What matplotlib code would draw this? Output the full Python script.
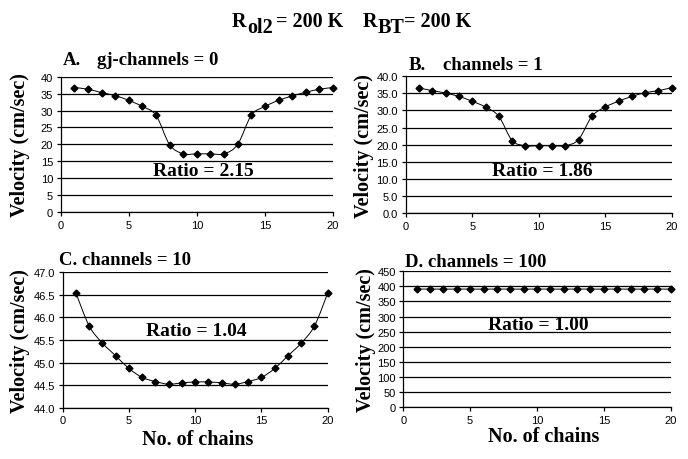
import numpy as np
import matplotlib.pyplot as plt
from matplotlib.path import Path
from matplotlib.patches import PathPatch
from matplotlib.ticker import FormatStrFormatter

W, H = 688, 460
SERIF = 'Liberation Serif'
SANS = 'Liberation Sans'

# data
chains = list(range(1, 21))
vel_a = [36.8, 36.3, 35.3, 34.4, 33.0, 31.2, 28.6, 19.9, 17.2, 17.2,
         17.2, 17.2, 20.0, 28.6, 31.2, 33.0, 34.3, 35.4, 36.3, 36.8]
vel_b = [36.6, 35.8, 35.1, 34.1, 32.7, 31.0, 28.3, 21.2, 19.7, 19.7,
         19.7, 19.7, 21.5, 28.3, 31.0, 32.7, 34.1, 35.2, 35.8, 36.7]
vel_c = [46.54, 45.81, 45.43, 45.15, 44.87, 44.67, 44.58, 44.52, 44.55, 44.57,
         44.57, 44.55, 44.52, 44.58, 44.67, 44.87, 45.15, 45.43, 45.81, 46.54]
vel_d = [391] * 20

titles = [('A.', 'gj-channels = 0'), ('B.', 'channels = 1'),
          ('C.', 'channels = 10'), ('D.', 'channels = 100')]
ratios = ['Ratio = 2.15', 'Ratio = 1.86', 'Ratio = 1.04', 'Ratio = 1.00']


def px(x, y):
    # pixel (from top-left) to figure fraction
    return x / W, 1 - y / H


def smooth_path(x, y):
    # Excel-style smoothed line as cubic Bezier segments
    pts = np.column_stack([x, y]).astype(float)
    n = len(pts)
    verts = [pts[0]]
    codes = [Path.MOVETO]
    for i in range(n - 1):
        p0 = pts[max(i - 1, 0)]
        p1 = pts[i]
        p2 = pts[i + 1]
        p3 = pts[min(i + 2, n - 1)]
        verts += [p1 + (p2 - p0) / 6, p2 - (p3 - p1) / 6, p2]
        codes += [Path.CURVE4] * 3
    return Path(verts, codes)


fig = plt.figure(figsize=(W / 100, H / 100), dpi=100)

# axes boxes in pixels: left, top, right, bottom
boxes = [(60.7, 77.7, 333, 213), (405.7, 77.3, 671.7, 214),
         (62.7, 273.3, 327.7, 408.7), (403.3, 272.3, 670.7, 408)]
limits = [(0, 40, 5, '%d'), (0, 40, 5, '%.1f'), (44, 47, 0.5, '%.1f'), (0, 450, 50, '%d')]
series = [vel_a, vel_b, vel_c, vel_d]
ratio_pos = [(10.45, 12.2), (10.3, 12.4), (10.1, 45.71), (10.1, 274.6)]
title_pos = [(63, 65, 97), (409, 70, 443), (59, 265, None), (405, 266.7, None)]
ylab_x = [20, 364, 20, 366]

for k in range(4):
    l, t, r, b = boxes[k]
    ax = fig.add_axes([l / W, 1 - b / H, (r - l) / W, (b - t) / H])
    lo, hi, step, fmt = limits[k]
    ax.set_xlim(0, 20)
    ax.set_ylim(lo, hi)
    ax.set_xticks(range(0, 21, 5))
    ax.set_yticks(np.arange(lo, hi + step / 2, step))
    ax.yaxis.set_major_formatter(FormatStrFormatter(fmt))
    ax.grid(axis='y', color='black', lw=0.9)
    ax.set_axisbelow(True)
    for s in ['top', 'right']:
        ax.spines[s].set_visible(False)
    for s in ['left', 'bottom']:
        ax.spines[s].set_linewidth(0.9)
    ax.tick_params(direction='out', length=3, width=0.9, labelsize=8, pad=2.5)
    for lab in ax.get_xticklabels() + ax.get_yticklabels():
        lab.set_family(SANS)

    ax.add_patch(PathPatch(smooth_path(chains, series[k]), fc='none', ec='black', lw=0.7))
    ax.plot(chains, series[k], ls='none', marker='D', ms=3.5, color='black', clip_on=False)

    ax.text(*ratio_pos[k], ratios[k], ha='center', va='center',
            family=SERIF, weight='bold', fontsize=14)

    # panel titles
    tx, ty, tx2 = title_pos[k]
    letter, rest = titles[k]
    if tx2 is None:
        fig.text(*px(tx, ty), letter + ' ' + rest, family=SERIF, weight='bold',
                 fontsize=13.5, va='baseline')
    else:
        fig.text(*px(tx, ty), letter, family=SERIF, weight='bold', fontsize=13.5, va='baseline')
        fig.text(*px(tx2, ty), rest, family=SERIF, weight='bold', fontsize=13.5, va='baseline')

    fig.text(*px(ylab_x[k], (t + b) / 2), 'Velocity (cm/sec)', rotation=90,
             ha='center', va='center', family=SERIF, weight='bold', fontsize=14.5)

fig.text(*px(198, 440), 'No. of chains', ha='center', va='center',
         family=SERIF, weight='bold', fontsize=14.5)
fig.text(*px(544, 437), 'No. of chains', ha='center', va='center',
         family=SERIF, weight='bold', fontsize=14.5)

# main heading with full-size subscripts
head = dict(family=SERIF, weight='bold', fontsize=14.5, va='baseline')
fig.text(*px(232, 26.7), 'R', **head)
fig.text(*px(247, 33), 'ol2', **head)
fig.text(*px(276, 26.7), '= 200 K', **head)
fig.text(*px(363, 26.7), 'R', **head)
fig.text(*px(378, 33), 'BT', **head)
fig.text(*px(404, 26.7), '= 200 K', **head)

fig.savefig('out.png', dpi=100, facecolor='white')
